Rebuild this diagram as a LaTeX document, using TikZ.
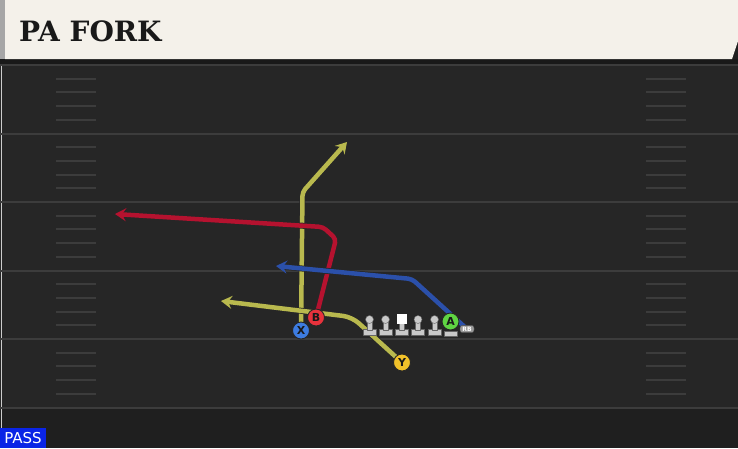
\documentclass[tikz,border=0pt]{standalone}
\usepackage{fontspec}
\setmainfont{DejaVu Sans}
\newfontfamily\titlefont{DejaVu Serif}
\usepackage{xcolor}
\usetikzlibrary{arrows.meta}

\definecolor{paper}{HTML}{F4F1EA}
\definecolor{fieldgray}{HTML}{262626}
\definecolor{lowgray}{HTML}{1F1F1F}
\definecolor{linegray}{HTML}{3C3C3C}
\definecolor{passblue}{HTML}{0A24E6}
\definecolor{routeyel}{HTML}{B9B94E}
\definecolor{routered}{HTML}{B5122F}
\definecolor{routeblu}{HTML}{2B50AA}
\definecolor{xblue}{HTML}{3D7CE0}
\definecolor{bred}{HTML}{E8323C}
\definecolor{ygold}{HTML}{F2C22A}
\definecolor{agreen}{HTML}{5FD443}
\definecolor{olgray}{HTML}{C9C9C9}

\pgfdeclarelayer{field}
\pgfdeclarelayer{routes}
\pgfsetlayers{field,routes,main}

\begin{document}
\begin{tikzpicture}[x=1pt,y=-1pt,line cap=round,line join=round,
  player/.style={circle,draw=black!85,line width=0.9pt,minimum size=17pt,inner sep=0pt,
    font=\fontsize{11}{11}\selectfont\bfseries,text=black!90},
  route/.style={line width=4.5pt,rounded corners=4pt,-{Stealth[length=11pt,width=13pt,inset=4pt]},
    preaction={draw=black!85,line width=6pt}},
  lineman/.style={fill=olgray,draw=black!60,line width=0.4pt}]
\useasboundingbox (0,0) rectangle (738,448);

% field and header
\begin{pgfonlayer}{field}
\fill[lowgray] (0,0) rectangle (738,448);
\fill[fieldgray] (0,64) rectangle (738,408);
\fill[black!90] (0,59) rectangle (738,64);
\fill[paper] (5,0) -- (738,0) -- (738,41) -- (732,59) -- (5,59) -- cycle;
\fill[black!35] (0,0) rectangle (5,59);
\draw[black!20,line width=1pt] (1,64) -- (1,448);
\foreach \k in {0,...,5}
  \draw[linegray,line width=2pt,line cap=butt] (0,65+68.5*\k) -- (738,65+68.5*\k);
\foreach \k in {0,...,4}
  \foreach \j in {1,...,4} {
    \draw[linegray,line width=2pt] (56,65+68.5*\k+13.7*\j) -- (96,65+68.5*\k+13.7*\j);
    \draw[linegray,line width=2pt] (646,65+68.5*\k+13.7*\j) -- (686,65+68.5*\k+13.7*\j);
  }
\end{pgfonlayer}

\node[anchor=west,inner sep=0pt,text=black!90] (title) at (19,31)
  {\titlefont\fontsize{28}{28}\selectfont\bfseries PA FORK};
\fill[passblue] (0,428) rectangle (46,448);
\node[text=white,inner sep=0pt,font=\fontsize{15}{15}\selectfont] (pass) at (23,438.5) {PASS};

% offensive line
\foreach \x in {369.5,385.5,418,434.5} {
  \draw[lineman] (\x-6.5,329.5) rectangle (\x+6.5,335);
  \draw[lineman] (\x-2.5,322) rectangle (\x+2.5,330);
  \draw[lineman] (\x,319.5) circle (4);
}
\draw[lineman] (395,329.5) rectangle (408,335);
\draw[lineman] (399,322) rectangle (404,330);
\fill[white] (396.5,313.5) rectangle (406.5,324);
\draw[lineman] (444,331) rectangle (457,336);

% players
\node[player,fill=xblue] (X) at (301,330.5) {X};
\node[player,fill=bred] (B) at (316,317.5) {B};
\node[player,fill=ygold] (Y) at (402,362.5) {Y};
\node[player,fill=agreen] (A) at (450.5,321.5) {A};
\node[fill=black!40,draw=black!70,line width=0.4pt,rounded corners=2.5pt,inner sep=1.5pt,
  minimum width=14pt,font=\fontsize{6}{6}\selectfont\bfseries,text=white!85] (rb) at (467,329) {RB};

\coordinate (xEnd) at (347,142);
\coordinate (bEnd) at (115,214);
\coordinate (yEnd) at (221,301);
\coordinate (rbEnd) at (276,266);

% routes
\begin{pgfonlayer}{routes}
\draw[route,routeyel] (X.center) -- (302.5,192) -- (xEnd);
\draw[route,routered] (B.center) -- (336,239) -- (323,227) -- (bEnd);
\draw[route,routeblu] (rb.center) -- (412,279) -- (rbEnd);
\draw[route,routeyel,rounded corners=9pt] (Y.center) -- (352,317) -- (yEnd);
\end{pgfonlayer}
\end{tikzpicture}
\end{document}
